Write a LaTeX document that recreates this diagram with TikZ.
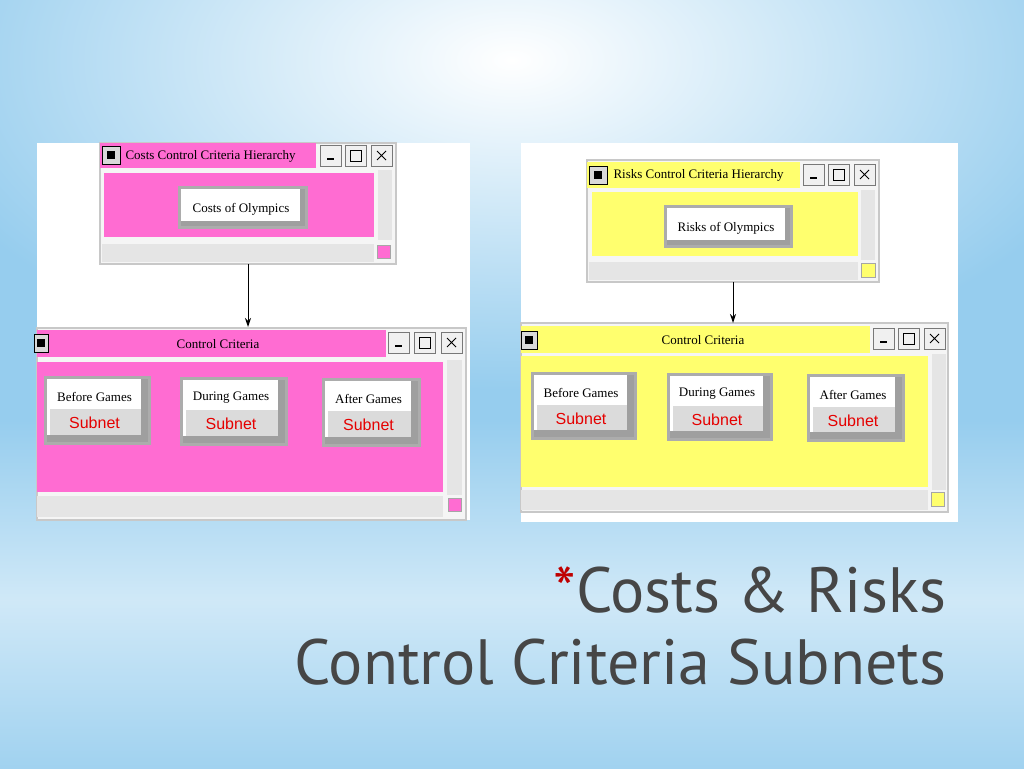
\documentclass[tikz,border=0pt]{standalone}
\usepackage{fontspec}
\setmainfont{Liberation Serif}
\newfontfamily\uisans{Liberation Sans}
\newfontfamily\titlefont{PT Sans}
\usetikzlibrary{positioning, calc, arrows.meta}
\definecolor{bgblue}{RGB}{150,205,238}
\definecolor{costpink}{RGB}{255,108,210}
\definecolor{riskyellow}{RGB}{255,255,110}
\definecolor{framegray}{RGB}{200,200,200}
\definecolor{titlegray}{RGB}{70,70,70}

% window pieces
\newcommand{\winbtns}[3]{% x of first button, y top, gap
  \foreach \k in {0,1,2}{
    \draw[framegray!60!black, fill=white!94!black] ({#1+\k*#3},#2) rectangle ++(21,21);
  }
  \draw[line width=2pt] ({#1+7},{#2+14}) -- ++(7,0);
  \draw[thick] ({#1+#3+5},{#2+5}) rectangle ++(11,11);
  \draw[thick] ({#1+2*#3+6},{#2+6}) -- ++(9,9) ({#1+2*#3+6},{#2+15}) -- ++(9,-9);
}
\newcommand{\card}[6]{% name, x1, y1, x2, y2, label
  \fill[gray!65] (#2,#3) rectangle (#4,#5);
  \fill[gray!75] ({#2+3},{#3+3}) rectangle ({#4-3},{#5-3});
  \fill[white] ({#2+3},{#3+3}) rectangle ({#4-10},{#5-10});
  \fill[gray!28] ({#2+6},{#3+33}) rectangle ({#4-10},{#5-10});
  \node[font=\fontsize{13}{13}\selectfont] (#1) at ({(#2+#4)/2-3},{#3+21}) {#6};
  \node[font=\uisans\fontsize{16}{16}\selectfont, text=red!90!black] at ({(#2+#4)/2-3},{#3+47}) {Subnet};
}

\begin{document}
\begin{tikzpicture}[x=1pt, y=-1pt,
    framebox/.style={draw=framegray, fill=white!96!black, line width=1.5pt},
    scroll/.style={fill=gray!20},
    corner/.style={draw=gray!70, fill=#1},
    topbtn/.style={font=\fontsize{13}{13}\selectfont},
    wintitle/.style={font=\fontsize{13}{13}\selectfont, text=black},
    arrow/.style={-{Stealth[length=9pt,width=6pt]}, line width=1pt}
  ]
\useasboundingbox (0,0) rectangle (1024,768);
% background
\fill[bgblue] (0,0) rectangle (1024,768);
\shade[top color=bgblue, bottom color=white!55!bgblue] (0,420) rectangle (1024,600);
\shade[top color=white!55!bgblue, bottom color=bgblue!90] (0,600) rectangle (1024,768);
\shade[inner color=white, outer color=bgblue] (512,60) ellipse (620 and 330);

% ---- costs panel
\fill[white] (37,143) rectangle (470,520);
\draw[framebox] (100,143) rectangle (396,264);
\fill[costpink] (100,143) rectangle (316,168);
\draw[fill=gray!30] (102,146) rectangle ++(18,18);
\fill[black] (107,151) rectangle ++(8,8);
\node[wintitle, anchor=west] at (122,156) {Costs Control Criteria Hierarchy};
\winbtns{320}{145}{25.5}
\fill[costpink] (104,173) rectangle (374,237);
\fill[scroll] (378,170) rectangle (392,240);
\fill[scroll] (102,244) rectangle (374,262);
\draw[corner=costpink] (377,245) rectangle (390,258);
\fill[gray!65] (178,186) rectangle (308,229);
\fill[gray!75] (181,189) rectangle (305,226);
\fill[white] (181,189) rectangle (300,221);
\node[topbtn] (costroot) at (241,209) {Costs of Olympics};

\draw[framebox] (37,328) rectangle (466,520);
\fill[costpink] (37,330) rectangle (386,357);
\draw[fill=gray!30] (34,334) rectangle ++(14,18);
\fill[black] (37,339) rectangle ++(8,8);
\node[wintitle] at (218,344) {Control Criteria};
\winbtns{388}{332}{26.5}
\fill[costpink] (37,362) rectangle (443,492);
\fill[scroll] (447,360) rectangle (462,495);
\fill[scroll] (37,496) rectangle (443,517);
\draw[corner=costpink] (448,498) rectangle (461,511);
\card{cbefore}{44}{376}{151}{445}{Before Games}
\card{cduring}{180}{377}{288}{446}{During Games}
\card{cafter}{322}{378}{421}{447}{After Games}
\coordinate (costtop) at (248,264);
\coordinate (costbot) at (248,327);
\draw[arrow] (costtop) -- (costbot);

% ---- risks panel
\fill[white] (521,143) rectangle (958,522);
\draw[framebox] (587,160) rectangle (879,282);
\fill[riskyellow] (587,162) rectangle (800,188);
\draw[fill=gray!30] (589,166) rectangle ++(18,18);
\fill[black] (594,171) rectangle ++(8,8);
\node[wintitle, anchor=west] at (610,175) {Risks Control Criteria Hierarchy};
\winbtns{803}{164}{25.5}
\fill[riskyellow] (592,192) rectangle (858,256);
\fill[scroll] (861,190) rectangle (875,260);
\fill[scroll] (589,262) rectangle (858,280);
\draw[corner=riskyellow] (861,263) rectangle (875,277);
\fill[gray!65] (664,205) rectangle (793,248);
\fill[gray!75] (667,208) rectangle (790,245);
\fill[white] (667,208) rectangle (785,240);
\node[topbtn] (riskroot) at (726,228) {Risks of Olympics};

\draw[framebox] (521,323) rectangle (948,512);
\fill[riskyellow] (521,326) rectangle (870,353);
\draw[fill=gray!30] (521,331) rectangle ++(16,18);
\fill[black] (525,336) rectangle ++(8,8);
\node[wintitle] at (703,340) {Control Criteria};
\winbtns{873}{328}{25.5}
\fill[riskyellow] (521,356) rectangle (928,487);
\fill[scroll] (932,354) rectangle (946,490);
\fill[scroll] (521,490) rectangle (928,510);
\draw[corner=riskyellow] (931,492) rectangle (944,506);
\card{rbefore}{531}{372}{637}{440}{Before Games}
\card{rduring}{667}{373}{773}{441}{During Games}
\card{rafter}{807}{374}{905}{442}{After Games}
\coordinate (risktop) at (733,282);
\coordinate (riskbot) at (733,323);
\draw[arrow] (risktop) -- (riskbot);

% ---- slide title
\node[anchor=east, font=\titlefont\fontsize{64}{64}\selectfont, text=titlegray] (title1) at (950,590) {\textcolor{red!75!black}{*}Costs \& Risks};
\node[anchor=east, font=\titlefont\fontsize{64}{64}\selectfont, text=titlegray] (title2) at (950,662) {Control Criteria Subnets};
\end{tikzpicture}
\end{document}
